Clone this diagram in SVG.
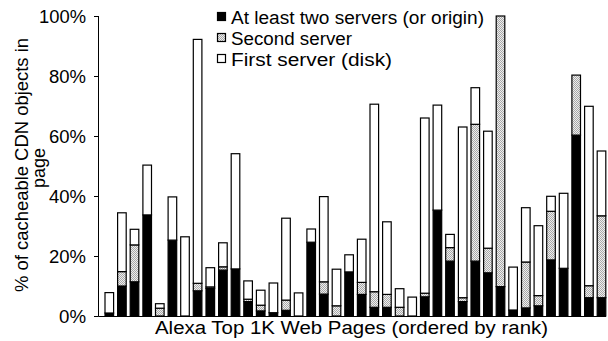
<svg xmlns="http://www.w3.org/2000/svg" width="608" height="341" viewBox="0 0 608 341">
  <style>
    text { font-family: "Liberation Sans", Arial, sans-serif; font-size: 18px; fill: #000; }
    .tick { text-anchor: end; }
    .blk { fill: #000; stroke: #000; stroke-width: 1.2; }
    .gry { fill: url(#dots); stroke: #000; stroke-width: 1.2; }
    .wht { fill: #fff; stroke: #000; stroke-width: 1.2; }
    .axis { stroke: #000; stroke-width: 1; fill: none; }
  </style>
  <defs>
    <!-- fine checker dither used for the "Second server" segments -->
    <pattern id="dots" width="2" height="2" patternUnits="userSpaceOnUse">
      <rect width="2" height="2" fill="#eeeeee"/>
      <rect width="1" height="1" fill="#a8a8a8"/>
      <rect x="1" y="1" width="1" height="1" fill="#a8a8a8"/>
    </pattern>
  </defs>
  <rect width="608" height="341" fill="#fff"/>

  <!-- y axis -->
  <g id="y-axis">
    <path class="axis" d="M98.5 16V316.5M94 16.5H98.5M94 76.5H98.5M94 136.5H98.5M94 196.5H98.5M94 256.5H98.5M94 316.5H98.5"/>
    <text class="tick" x="86" y="22.5" textLength="47" lengthAdjust="spacingAndGlyphs">100%</text>
    <text class="tick" x="86" y="82.5" textLength="37" lengthAdjust="spacingAndGlyphs">80%</text>
    <text class="tick" x="86" y="142.5" textLength="37" lengthAdjust="spacingAndGlyphs">60%</text>
    <text class="tick" x="86" y="202.5" textLength="37" lengthAdjust="spacingAndGlyphs">40%</text>
    <text class="tick" x="86" y="262.5" textLength="37" lengthAdjust="spacingAndGlyphs">20%</text>
    <text class="tick" x="86" y="322.5" textLength="27" lengthAdjust="spacingAndGlyphs">0%</text>
    <text transform="translate(28,165) rotate(-90)" text-anchor="middle" textLength="254" lengthAdjust="spacingAndGlyphs">% of cacheable CDN objects in</text>
    <text transform="translate(45,168) rotate(-90)" text-anchor="middle">page</text>
  </g>

  <!-- x axis -->
  <g id="x-axis">
    <path class="axis" d="M98.5 316.5H606"/>
    <text x="155" y="334" textLength="393" lengthAdjust="spacingAndGlyphs">Alexa Top 1K Web Pages (ordered by rank)</text>
  </g>

  <!-- stacked bars: black = at least two servers, dotted = second server, white = first server -->
  <g id="bars">
    <rect class="blk" x="105" y="313" width="8.6" height="3"/>
    <rect class="wht" x="105" y="292.6" width="8.6" height="20.4"/>

    <rect class="blk" x="117.6" y="286" width="8.6" height="30"/>
    <rect class="gry" x="117.6" y="271.6" width="8.6" height="14.4"/>
    <rect class="wht" x="117.6" y="212.8" width="8.6" height="58.8"/>

    <rect class="blk" x="130.2" y="281.8" width="8.6" height="34.2"/>
    <rect class="gry" x="130.2" y="244.9" width="8.6" height="36.9"/>
    <rect class="wht" x="130.2" y="229.3" width="8.6" height="15.6"/>

    <rect class="blk" x="142.9" y="214.9" width="8.6" height="101.1"/>
    <rect class="wht" x="142.9" y="165.1" width="8.6" height="49.8"/>

    <rect class="gry" x="155.5" y="308.2" width="8.6" height="7.8"/>
    <rect class="wht" x="155.5" y="303.7" width="8.6" height="4.5"/>

    <rect class="blk" x="168.1" y="240.1" width="8.6" height="75.9"/>
    <rect class="wht" x="168.1" y="196.9" width="8.6" height="43.2"/>

    <rect class="wht" x="180.7" y="236.8" width="8.6" height="79.2"/>

    <rect class="blk" x="193.3" y="290.8" width="8.6" height="25.2"/>
    <rect class="gry" x="193.3" y="283.3" width="8.6" height="7.5"/>
    <rect class="wht" x="193.3" y="39.4" width="8.6" height="243.9"/>

    <rect class="blk" x="206" y="288.4" width="8.6" height="27.6"/>
    <rect class="gry" x="206" y="286.9" width="8.6" height="1.5"/>
    <rect class="wht" x="206" y="267.7" width="8.6" height="19.2"/>

    <rect class="blk" x="218.6" y="270.1" width="8.6" height="45.9"/>
    <rect class="gry" x="218.6" y="266.8" width="8.6" height="3.3"/>
    <rect class="wht" x="218.6" y="242.8" width="8.6" height="24"/>

    <rect class="blk" x="231.2" y="268.9" width="8.6" height="47.1"/>
    <rect class="wht" x="231.2" y="153.7" width="8.6" height="115.2"/>

    <rect class="blk" x="243.8" y="301.6" width="8.6" height="14.4"/>
    <rect class="gry" x="243.8" y="299.2" width="8.6" height="2.4"/>
    <rect class="wht" x="243.8" y="280.9" width="8.6" height="18.3"/>

    <rect class="blk" x="256.4" y="310.9" width="8.6" height="5.1"/>
    <rect class="gry" x="256.4" y="305.2" width="8.6" height="5.7"/>
    <rect class="wht" x="256.4" y="290.2" width="8.6" height="15"/>

    <rect class="blk" x="269.1" y="312.7" width="8.6" height="3.3"/>
    <rect class="wht" x="269.1" y="283" width="8.6" height="29.7"/>

    <rect class="blk" x="281.7" y="310.3" width="8.6" height="5.7"/>
    <rect class="gry" x="281.7" y="300.1" width="8.6" height="10.2"/>
    <rect class="wht" x="281.7" y="218.2" width="8.6" height="81.9"/>

    <rect class="wht" x="294.3" y="292.9" width="8.6" height="23.1"/>

    <rect class="blk" x="306.9" y="242.2" width="8.6" height="73.8"/>
    <rect class="wht" x="306.9" y="229" width="8.6" height="13.2"/>

    <rect class="blk" x="319.5" y="294.1" width="8.6" height="21.9"/>
    <rect class="gry" x="319.5" y="281.8" width="8.6" height="12.3"/>
    <rect class="wht" x="319.5" y="196.6" width="8.6" height="85.2"/>

    <rect class="gry" x="332.2" y="305.8" width="8.6" height="10.2"/>
    <rect class="wht" x="332.2" y="269.2" width="8.6" height="36.6"/>

    <rect class="blk" x="344.8" y="271.9" width="8.6" height="44.1"/>
    <rect class="wht" x="344.8" y="254.8" width="8.6" height="17.1"/>

    <rect class="blk" x="357.4" y="294.4" width="8.6" height="21.6"/>
    <rect class="gry" x="357.4" y="282.4" width="8.6" height="12"/>
    <rect class="wht" x="357.4" y="239.2" width="8.6" height="43.2"/>

    <rect class="blk" x="370" y="307.3" width="8.6" height="8.7"/>
    <rect class="gry" x="370" y="291.7" width="8.6" height="15.6"/>
    <rect class="wht" x="370" y="104.2" width="8.6" height="187.5"/>

    <rect class="blk" x="382.6" y="307.3" width="8.6" height="8.7"/>
    <rect class="gry" x="382.6" y="294.4" width="8.6" height="12.9"/>
    <rect class="wht" x="382.6" y="221.8" width="8.6" height="72.6"/>

    <rect class="gry" x="395.3" y="307.3" width="8.6" height="8.7"/>
    <rect class="wht" x="395.3" y="288.7" width="8.6" height="18.6"/>

    <rect class="wht" x="407.9" y="297.1" width="8.6" height="18.9"/>

    <rect class="blk" x="420.5" y="296.8" width="8.6" height="19.2"/>
    <rect class="gry" x="420.5" y="293.2" width="8.6" height="3.6"/>
    <rect class="wht" x="420.5" y="118" width="8.6" height="175.2"/>

    <rect class="blk" x="433.1" y="210.1" width="8.6" height="105.9"/>
    <rect class="wht" x="433.1" y="105.1" width="8.6" height="105"/>

    <rect class="blk" x="445.7" y="261.1" width="8.6" height="54.9"/>
    <rect class="gry" x="445.7" y="247.6" width="8.6" height="13.5"/>
    <rect class="wht" x="445.7" y="234.4" width="8.6" height="13.2"/>

    <rect class="blk" x="458.4" y="301.6" width="8.6" height="14.4"/>
    <rect class="gry" x="458.4" y="297.7" width="8.6" height="3.9"/>
    <rect class="wht" x="458.4" y="127" width="8.6" height="170.7"/>

    <rect class="blk" x="471" y="261.1" width="8.6" height="54.9"/>
    <rect class="gry" x="471" y="124.3" width="8.6" height="136.8"/>
    <rect class="wht" x="471" y="87.7" width="8.6" height="36.6"/>

    <rect class="blk" x="483.6" y="272.8" width="8.6" height="43.2"/>
    <rect class="gry" x="483.6" y="248.2" width="8.6" height="24.6"/>
    <rect class="wht" x="483.6" y="131.2" width="8.6" height="117"/>

    <rect class="blk" x="496.2" y="286.6" width="8.6" height="29.4"/>
    <rect class="gry" x="496.2" y="16" width="8.6" height="270.6"/>

    <rect class="blk" x="508.8" y="310" width="8.6" height="6"/>
    <rect class="wht" x="508.8" y="267.1" width="8.6" height="42.9"/>

    <rect class="blk" x="521.5" y="307.9" width="8.6" height="8.1"/>
    <rect class="gry" x="521.5" y="262" width="8.6" height="45.9"/>
    <rect class="wht" x="521.5" y="207.7" width="8.6" height="54.3"/>

    <rect class="blk" x="534.1" y="305.8" width="8.6" height="10.2"/>
    <rect class="gry" x="534.1" y="295.6" width="8.6" height="10.2"/>
    <rect class="wht" x="534.1" y="225.7" width="8.6" height="69.9"/>

    <rect class="blk" x="546.7" y="259.9" width="8.6" height="56.1"/>
    <rect class="gry" x="546.7" y="211.3" width="8.6" height="48.6"/>
    <rect class="wht" x="546.7" y="196.3" width="8.6" height="15"/>

    <rect class="blk" x="559.3" y="268.3" width="8.6" height="47.7"/>
    <rect class="wht" x="559.3" y="193.3" width="8.6" height="75"/>

    <rect class="blk" x="571.9" y="135.1" width="8.6" height="180.9"/>
    <rect class="gry" x="571.9" y="75.1" width="8.6" height="60"/>

    <rect class="blk" x="584.6" y="297.7" width="8.6" height="18.3"/>
    <rect class="gry" x="584.6" y="285.7" width="8.6" height="12"/>
    <rect class="wht" x="584.6" y="106.3" width="8.6" height="179.4"/>

    <rect class="blk" x="597.2" y="297.7" width="8.6" height="18.3"/>
    <rect class="gry" x="597.2" y="215.8" width="8.6" height="81.9"/>
    <rect class="wht" x="597.2" y="151" width="8.6" height="64.8"/>
  </g>

  <!-- legend -->
  <g id="legend">
    <rect class="blk" x="217.5" y="12.5" width="8" height="8"/>
    <text x="231" y="23.5" textLength="253" lengthAdjust="spacingAndGlyphs">At least two servers (or origin)</text>
    <rect class="gry" x="217.5" y="33.5" width="8" height="8"/>
    <text x="231" y="44.5" textLength="121" lengthAdjust="spacingAndGlyphs">Second server</text>
    <rect class="wht" x="217.5" y="54.5" width="8" height="8"/>
    <text x="231" y="65.5" textLength="161" lengthAdjust="spacingAndGlyphs">First server (disk)</text>
  </g>
</svg>
